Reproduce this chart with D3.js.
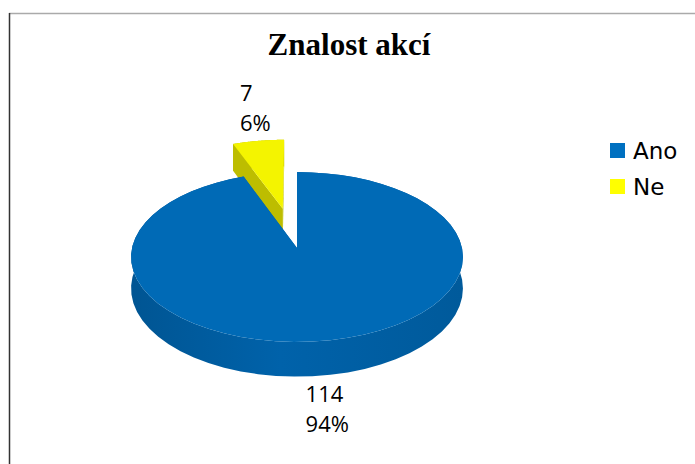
<!DOCTYPE html>
<html lang="cs">
<head>
<meta charset="UTF-8">
<title>Znalost akcí</title>
<script src="https://d3js.org/d3.v7.min.js"></script>
<style>
  body { margin: 0; background: #fff; }
</style>
</head>
<body>
<script>
// data
var categories = ["Ano", "Ne"];
var values = [114, 7];
var colors = ["#006AB6", "#F4F400"];
var sideColors = ["#005FA4", "#BDBD00"];
var explode = [0, 0.5];

var width = 695, height = 464;

var svg = d3.select("body").append("svg")
  .attr("width", width).attr("height", height)
  .style("font-family", "'DejaVu Sans', sans-serif");

// ramecek
svg.append("line").attr("x1", 9).attr("x2", width).attr("y1", 13.5).attr("y2", 13.5)
  .attr("stroke", "#aaa").attr("stroke-width", 1.5);
svg.append("line").attr("x1", 9.5).attr("x2", 9.5).attr("y1", 13).attr("y2", height)
  .attr("stroke", "#333").attr("stroke-width", 1.5);

svg.append("text").attr("x", 349).attr("y", 55).attr("text-anchor", "middle")
  .style("font-family", "'Liberation Serif', serif").style("font-weight", "bold")
  .style("font-size", "31px").text("Znalost akcí");

// 3D projekce (jednoducha perspektiva)
var cx = 297, cy = 248, rx = 165, ry = 84, k = 0.106, depth = 31;
var xs = d3.scaleLinear().domain([-1, 1]).range([cx - rx, cx + rx]);
var ys = d3.scaleLinear().domain([-1, 1]).range([cy - ry, cy + ry]);
function proj(u, v, z) {
  var s = 1 / (1 - k * v);
  return [xs(u * s), ys(v * s) + z * depth * s];
}
var color = d3.scaleOrdinal().domain(categories).range(colors);
var side = d3.scaleOrdinal().domain(categories).range(sideColors);

var pie = d3.pie().sort(null).value(function(d) { return d.value; });
var arcs = pie(categories.map(function(c, i) { return { name: c, value: values[i], ex: explode[i] }; }));

var line = d3.line();
var defs = svg.append("defs");
arcs.forEach(function(a, i) {
  var g = defs.append("linearGradient").attr("id", "wall" + i)
    .attr("gradientUnits", "userSpaceOnUse")
    .attr("x1", cx - rx).attr("x2", cx + rx).attr("y1", 0).attr("y2", 0);
  var c = d3.color(side(a.data.name));
  g.append("stop").attr("offset", 0).attr("stop-color", c.darker(0.3));
  g.append("stop").attr("offset", 0.45).attr("stop-color", c.brighter(0.1));
  g.append("stop").attr("offset", 1).attr("stop-color", c.darker(0.15));
});

function pt(angle, r, off) {
  return [Math.sin(angle) * r + off[0], -Math.cos(angle) * r + off[1]];
}

// zadni (odsunuty) dilek nejdriv
var order = arcs.slice().sort(function(a, b) { return b.data.ex - a.data.ex; });

order.forEach(function(a) {
  var i = arcs.indexOf(a);
  var mid = (a.startAngle + a.endAngle) / 2;
  var off = [Math.sin(mid) * a.data.ex, -Math.cos(mid) * a.data.ex];
  var steps = d3.range(0, 61).map(function(j) { return a.startAngle + (a.endAngle - a.startAngle) * j / 60; });
  var g = svg.append("g");

  // bocni stena
  var top = steps.map(function(t) { var p = pt(t, 1, off); return proj(p[0], p[1], 0); });
  var bot = steps.map(function(t) { var p = pt(t, 1, off); return proj(p[0], p[1], 1); }).reverse();
  g.append("path").attr("d", line(top.concat(bot)) + "Z").attr("fill", "url(#wall" + i + ")");

  // radialni steny
  [a.startAngle, a.endAngle].forEach(function(t) {
    var p = pt(t, 1, off);
    var quad = [proj(off[0], off[1], 0), proj(p[0], p[1], 0), proj(p[0], p[1], 1), proj(off[0], off[1], 1)];
    g.append("path").attr("d", line(quad) + "Z").attr("fill", side(a.data.name));
  });

  // horni plocha
  var face = [proj(off[0], off[1], 0)].concat(top);
  g.append("path").attr("d", line(face) + "Z").attr("fill", color(a.data.name));
});

// popisky
var total = d3.sum(values);
arcs.forEach(function(a) {
  var mid = (a.startAngle + a.endAngle) / 2;
  var front = Math.cos(mid) < 0;
  var off = [Math.sin(mid) * a.data.ex, -Math.cos(mid) * a.data.ex];
  var p = pt(mid, 1, off);
  var q = proj(p[0], p[1], front ? 1 : 0);
  var lines = [String(a.data.value), Math.round(a.data.value / total * 100) + "%"];
  var t = svg.append("text").style("font-family", "'Open Sans', sans-serif")
    .style("font-size", "22px").attr("fill", "#000");
  lines.forEach(function(s, j) {
    t.append("tspan").attr("dy", j ? 30 : 0).text(s);
  });
  var w = d3.max(t.selectAll("tspan").nodes(), function(n) { return n.getComputedTextLength(); });
  var x0 = q[0] - w / 2 - 3;
  var y0 = front ? q[1] + 27 : q[1] - 40;
  t.attr("y", y0);
  t.selectAll("tspan").attr("x", x0);
});

// legenda
var legend = svg.append("g");
categories.forEach(function(c, i) {
  var y = 143 + i * 36;
  legend.append("rect").attr("x", 610).attr("y", y).attr("width", 15).attr("height", 15)
    .attr("fill", i === 1 ? "#FFFF00" : "#0070C0");
  legend.append("text").attr("x", 633).attr("y", y + 16).style("font-size", "23px").text(c);
});
</script>
</body>
</html>
